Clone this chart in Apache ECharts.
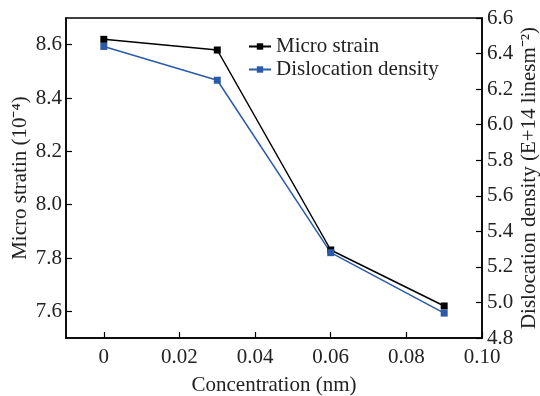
<!DOCTYPE html>
<html><head><meta charset="utf-8">
<script src="https://cdn.jsdelivr.net/npm/echarts@6/dist/echarts.min.js"></script>
<style>html,body{margin:0;padding:0;background:#fff}#c{width:540px;height:396px}</style>
</head><body><div id="c"></div>
<script>
const concentration = [0, 0.03, 0.06, 0.09];
const microStrain = [8.62, 8.58, 7.83, 7.62];
const dislocationDensity = [6.44, 6.25, 5.28, 4.94];
const xTicks = [0, 0.02, 0.04, 0.06, 0.08, 0.10];
const leftTicks = [7.6, 7.8, 8.0, 8.2, 8.4, 8.6];

const font = 'Liberation Serif';
const chart = echarts.init(document.getElementById('c'));
const txt = {fontFamily: font, fontSize: 21, color: '#222'};
chart.setOption({
  animation: false,
  grid: {left: 66, right: 58, top: 18, bottom: 58, containLabel: false, outerBoundsMode: 'none',
         show: true, borderColor: '#000', borderWidth: 1.5, backgroundColor: 'transparent'},
  legend: {
    left: 243, top: 31, orient: 'vertical', itemGap: 2, itemWidth: 22, itemHeight: 8,
    textStyle: {fontFamily: font, fontSize: 21, color: '#222'},
    data: ['Micro strain', 'Dislocation density']
  },
  xAxis: {
    type: 'value', min: -0.01, max: 0.10,
    name: 'Concentration (nm)', nameLocation: 'middle', nameGap: 37, nameTextStyle: txt,
    axisLine: {onZero: false, lineStyle: {color: '#000', width: 1.5}},
    axisTick: {inside: true, length: 6, customValues: xTicks, lineStyle: {color: '#000', width: 1.2}},
    axisLabel: {customValues: xTicks, margin: 9, ...txt, formatter: v => v === 0 ? '0' : v.toFixed(2)},
    splitLine: {show: false}
  },
  yAxis: [{
    type: 'value', min: 7.5, max: 8.7, position: 'left',
    name: 'Micro stratin (10⁻⁴)', nameLocation: 'middle', nameGap: 35, nameRotate: 90, nameMoveOverlap: false, nameTextStyle: txt,
    axisLine: {show: true, onZero: false, lineStyle: {color: '#000', width: 1.5}},
    axisTick: {show: true, inside: true, length: 6, customValues: leftTicks, lineStyle: {color: '#000', width: 1.2}},
    axisLabel: {customValues: leftTicks, margin: 4, ...txt, formatter: v => v.toFixed(1)},
    splitLine: {show: false}
  }, {
    type: 'value', min: 4.8, max: 6.6, interval: 0.2, position: 'right',
    name: 'Dislocation density (E+14 linesm⁻²)', nameLocation: 'middle', nameGap: 37, nameRotate: 90, nameMoveOverlap: false, nameTextStyle: txt,
    axisLine: {show: true, onZero: false, lineStyle: {color: '#000', width: 1.5}},
    axisTick: {show: true, inside: true, length: 6, lineStyle: {color: '#000', width: 1.2}},
    axisLabel: {margin: 5, ...txt, formatter: v => v.toFixed(1)},
    splitLine: {show: false}
  }],
  series: [{
    name: 'Micro strain', type: 'line', yAxisIndex: 0,
    data: concentration.map((x, i) => [x, microStrain[i]]),
    symbol: 'rect', symbolSize: 7, lineStyle: {color: '#000', width: 1.5}, itemStyle: {color: '#000'}
  }, {
    name: 'Dislocation density', type: 'line', yAxisIndex: 1,
    data: concentration.map((x, i) => [x, dislocationDensity[i]]),
    symbol: 'rect', symbolSize: 7, lineStyle: {color: '#2b5ba8', width: 1.5}, itemStyle: {color: '#2b5ba8'}
  }]
});
</script></body></html>
